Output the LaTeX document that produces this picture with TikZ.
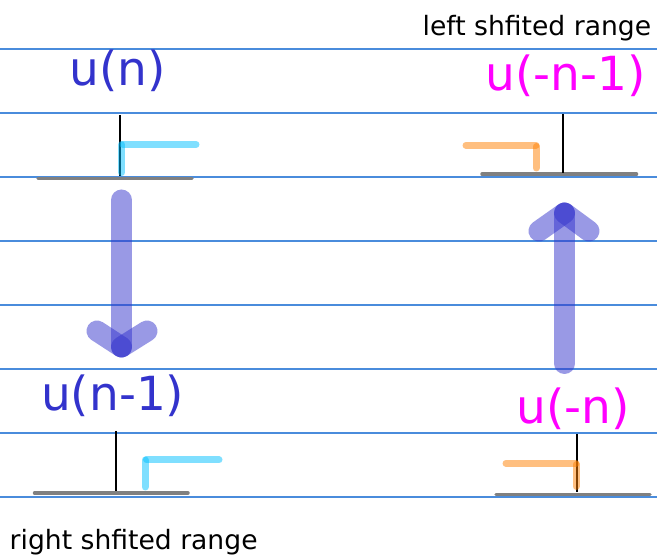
\documentclass[tikz,border=0pt]{standalone}
\usepackage{fontspec}
\setmainfont{DejaVu Sans}
\definecolor{rule}{RGB}{74,140,220}
\definecolor{ublue}{RGB}{51,51,204}
\definecolor{umag}{RGB}{255,0,255}
\tikzset{
  ruleline/.style={draw=rule, line width=1.1pt},
  axisline/.style={draw=black!50, line width=3.5pt, line cap=round},
  tickline/.style={draw=black, line width=2pt},
  cyanstep/.style={draw={rgb,255:red,0;green,191;blue,255}, draw opacity=0.5, line width=7pt, line cap=round},
  orangestep/.style={draw={rgb,255:red,255;green,127;blue,0}, draw opacity=0.5, line width=7pt, line cap=round},
  bigarrow/.style={draw=ublue, draw opacity=0.5, line width=21pt, line cap=round},
  biglabel/.style={inner sep=0pt, anchor=base west, font=\fontsize{47}{50}\selectfont},
  smalllabel/.style={inner sep=0pt, anchor=base west, text=black, font=\fontsize{26.6}{29}\selectfont},
}
\begin{document}
\begin{tikzpicture}[x=1pt,y=-1pt]
\useasboundingbox (0,0) rectangle (657,556);
% ruled lines
\foreach \yy in {49,113,177,241,305,369,433,497}
  \draw[ruleline] (0,\yy) -- (657,\yy);
% axes
\draw[axisline] (38,178.3) -- (192,178.3);
\draw[axisline] (482,174.2) -- (636.5,174.2);
\draw[axisline] (34.5,493) -- (188,493);
\draw[axisline] (496,494.3) -- (650,494.3);
% ticks
\draw[tickline] (120,115) -- (120,176);
\draw[tickline] (563,114) -- (563,173);
\draw[tickline] (116,431) -- (116,491);
\draw[tickline] (577,434) -- (577,492);
% steps
\draw[cyanstep] (121.5,172.5) -- (121.5,144.5);
\draw[cyanstep] (123,144.5) -- (196,144.5);
\draw[orangestep] (466,145.3) -- (536,145.3);
\draw[orangestep] (536,146.5) -- (536,168);
\draw[cyanstep] (145,487) -- (145,460);
\draw[cyanstep] (146.5,460) -- (219,460);
\draw[orangestep] (506,463.3) -- (576,463.3);
\draw[orangestep] (576,464.5) -- (576,486.5);
% big arrows
\coordinate (a1s) at (121.5,200);
\coordinate (a1t) at (121.5,347);
\coordinate (a1l) at (97,331);
\coordinate (a1r) at (147,331);
\draw[bigarrow] (a1s) -- (a1t);
\draw[bigarrow] (a1l) -- (a1t);
\draw[bigarrow] (a1r) -- (a1t);
\coordinate (a2s) at (564.5,363.5);
\coordinate (a2t) at (564.5,213);
\coordinate (a2l) at (539,231);
\coordinate (a2r) at (589,231);
\draw[bigarrow] (a2s) -- (a2t);
\draw[bigarrow] (a2l) -- (a2t);
\draw[bigarrow] (a2r) -- (a2t);
% labels
\node[biglabel, text=ublue] (un) at (69.5,85.5) {u(n)};
\node[biglabel, text=umag] (umn1) at (485.5,90.5) {u(-n-1)};
\node[biglabel, text=ublue] (un1) at (41,410.5) {u(n-1)};
\node[biglabel, text=umag] (umn) at (516.5,424) {u(-n)};
\node[smalllabel] (lsr) at (422.5,35.7) {left shfited range};
\node[smalllabel] (rsr) at (9.5,550) {right shfited range};
\end{tikzpicture}
\end{document}
